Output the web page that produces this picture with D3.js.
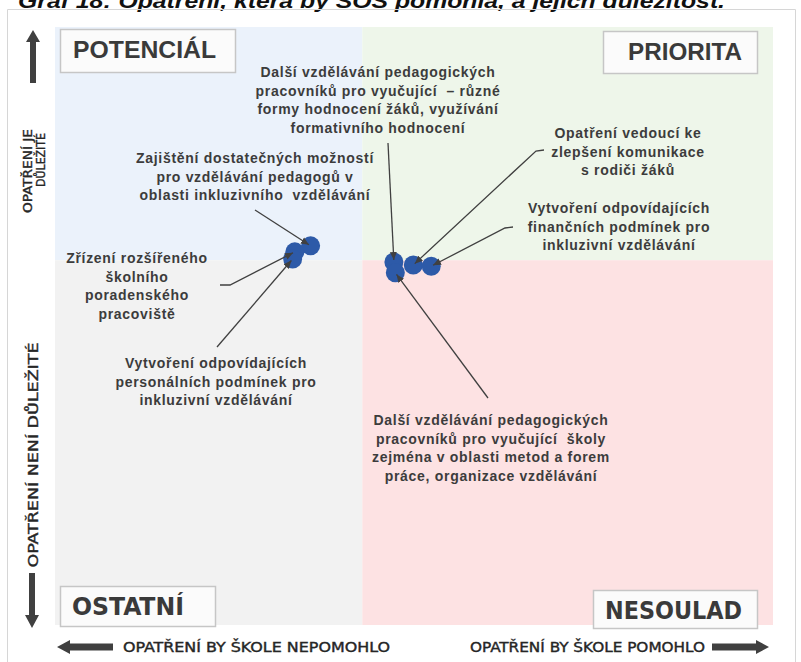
<!DOCTYPE html>
<html><head><meta charset="utf-8">
<script src="https://cdn.jsdelivr.net/npm/d3@7/dist/d3.min.js"></script>
<style>body{margin:0;background:#fff} svg{display:block}</style>
</head><body>
<svg id="c" width="801" height="662"></svg>
<script>
// ---------- DATA ----------
const measures = [
  "Zajištění dostatečných možností pro vzdělávání pedagogů v oblasti inkluzivního vzdělávání",
  "Zřízení rozšířeného školního poradenského pracoviště",
  "Vytvoření odpovídajících personálních podmínek pro inkluzivní vzdělávání",
  "Další vzdělávání pedagogických pracovníků pro vyučující – různé formy hodnocení žáků, využívání formativního hodnocení",
  "Další vzdělávání pedagogických pracovníků pro vyučující školy zejména v oblasti metod a forem práce, organizace vzdělávání",
  "Opatření vedoucí ke zlepšení komunikace s rodiči žáků",
  "Vytvoření odpovídajících finančních podmínek pro inkluzivní vzdělávání"
];
const measureLines = [
  ["Zajištění dostatečných možností","pro vzdělávání pedagogů v","oblasti inkluzivního\u00a0 vzdělávání"],
  ["Zřízení rozšířeného","školního","poradenského","pracoviště"],
  ["Vytvoření odpovídajících","personálních podmínek pro","inkluzivní vzdělávání"],
  ["Další vzdělávání pedagogických","pracovníků pro vyučující\u00a0 – různé","formy hodnocení žáků, využívání","formativního hodnocení"],
  ["Další vzdělávání pedagogických","pracovníků pro vyučující\u00a0 školy","zejména v oblasti metod a forem","práce, organizace vzdělávání"],
  ["Opatření vedoucí ke","zlepšení komunikace","s rodiči žáků"],
  ["Vytvoření odpovídajících","finančních podmínek pro","inkluzivní vzdělávání"]
];
const helpScore       = [35.6, 33.4, 33.1, 47.2, 47.4, 49.9, 52.4];
const importanceScore = [63.4, 62.4, 61.2, 60.7, 58.9, 60.2, 60.0];
const xSplit = 42.8, ySplit = 61.0;
const quadrantNames = ["POTENCIÁL","PRIORITA","OSTATNÍ","NESOULAD"];
const xAxisLabels = ["OPATŘENÍ BY ŠKOLE NEPOMOHLO","OPATŘENÍ BY ŠKOLE POMOHLO"];
const yAxisTopLines = ["OPATŘENÍ JE","DŮLEŽITÉ"];
const yAxisBottom = "OPATŘENÍ NENÍ DŮLEŽITÉ";
const titleText = "Graf 18: Opatření, která by SOŠ pomohla, a jejich důležitost.";

// ---------- LAYOUT ----------
const svg = d3.select("#c");
const x = d3.scaleLinear().domain([0,100]).range([55,773]);
const y = d3.scaleLinear().domain([0,100]).range([625,27]);
const dark = "#404040";
const sans = "Arial, 'Liberation Sans', sans-serif";
const narrow = "'Liberation Sans Narrow','Arial Narrow','DejaVu Sans Condensed',sans-serif";

// title (cut off at the top, as in the source)
svg.append("text").attr("x",18).attr("y",8)
  .attr("font-family",sans).attr("font-size",21).attr("font-style","italic").attr("font-weight","bold")
  .attr("fill","#111").attr("textLength",707).attr("lengthAdjust","spacingAndGlyphs").text(titleText);

// frame
svg.append("path").attr("d","M7.5,662V9.5H795.5V662").attr("fill","none").attr("stroke","#d6d6d6").attr("stroke-width",1);

// quadrants
const quads = [
  {x0:0,x1:xSplit,y0:ySplit,y1:100,c:"#ebf2fb"},
  {x0:xSplit,x1:100,y0:ySplit,y1:100,c:"#eef6ea"},
  {x0:0,x1:xSplit,y0:0,y1:ySplit,c:"#f2f2f2"},
  {x0:xSplit,x1:100,y0:0,y1:ySplit,c:"#fde2e3"}
];
svg.selectAll("rect.q").data(quads).join("rect").attr("class","q")
  .attr("x",d=>x(d.x0)).attr("width",d=>x(d.x1)-x(d.x0))
  .attr("y",d=>y(d.y1)).attr("height",d=>y(d.y0)-y(d.y1)).attr("fill",d=>d.c);

// quadrant label boxes
const qBoxes = [
  {bx:60,by:29,bw:175,bh:43,tx:73,ty:58,fs:24,font:sans,tl:143},
  {bx:603,by:31,bw:154,bh:42,tx:628,ty:60,fs:24,font:sans,tl:114},
  {bx:60,by:586,bw:155,bh:40,tx:72,ty:615,fs:25,font:narrow,tl:112},
  {bx:593,by:590,bw:164,bh:38,tx:605,ty:619,fs:25,font:narrow,tl:137}
];
qBoxes.forEach((b,i)=>{
  svg.append("rect").attr("x",b.bx+0.5).attr("y",b.by+0.5).attr("width",b.bw).attr("height",b.bh)
    .attr("fill","#fbfbfb").attr("stroke","#c6c6c6").attr("stroke-width",1.5);
  svg.append("text").attr("x",b.tx).attr("y",b.ty).attr("font-family",b.font).attr("font-weight","bold")
    .attr("font-size",b.fs).attr("fill","#3a3a3a").attr("textLength",b.tl).attr("lengthAdjust","spacingAndGlyphs")
    .text(quadrantNames[i]);
});

// axis arrows
const arrowFill = "#404040";
svg.append("path").attr("d","M33,30 L40,42 L36,42 L36,83 L30,83 L30,42 L26,42 Z").attr("fill",arrowFill);
svg.append("path").attr("d","M32,628 L39,615 L35,615 L35,573 L29,573 L29,615 L25,615 Z").attr("fill",arrowFill);
svg.append("path").attr("d","M57,647 L70,640 L70,643.5 L113,643.5 L113,650.5 L70,650.5 L70,654 Z").attr("fill",arrowFill);
svg.append("path").attr("d","M769,647 L756,640 L756,643.5 L712,643.5 L712,650.5 L756,650.5 L756,654 Z").attr("fill",arrowFill);

// x axis labels
const axStyle = s => s.attr("font-family",narrow).attr("font-size",13.5).attr("font-weight","normal")
  .attr("fill","#262626").attr("stroke","#262626").attr("stroke-width",0.35).attr("lengthAdjust","spacingAndGlyphs");
svg.append("text").attr("x",123).attr("y",652).call(axStyle).attr("textLength",267).text(xAxisLabels[0]);
svg.append("text").attr("x",470).attr("y",652).call(axStyle).attr("textLength",235).text(xAxisLabels[1]);

// y axis labels
const yl = svg.append("g").attr("text-anchor","middle");
yl.append("text").attr("transform","translate(32,171) rotate(-90)").call(axStyle).attr("font-size",12.5).attr("textLength",84).text(yAxisTopLines[0]);
yl.append("text").attr("transform","translate(45,160) rotate(-90)").call(axStyle).attr("font-size",12.5).attr("textLength",54).text(yAxisTopLines[1]);
yl.append("text").attr("transform","translate(38,455) rotate(-90)").call(axStyle).attr("textLength",225).text(yAxisBottom);

// annotation layout (label text position and leader start)
const annLayout = [
  {cx:255, y0:163, lead:[[255,210]]},
  {cx:137, y0:263, lead:[[220,285],[230,285]]},
  {cx:216, y0:368, lead:[[217,347]]},
  {cx:378, y0:77,  lead:[[388,143]]},
  {cx:491, y0:425, lead:[[488,398]]},
  {cx:628, y0:138, lead:[[544,150],[536,151]]},
  {cx:619, y0:213, lead:[[513,227],[505,228]]}
];
const lineGap = 18.7;

// points
const pts = measures.map((m,i)=>({name:m, hx:helpScore[i], iy:importanceScore[i], i}));
svg.append("g").selectAll("circle").data(pts).join("circle")
  .attr("cx",d=>x(d.hx)).attr("cy",d=>y(d.iy)).attr("r",9.5).attr("fill","#2d5aa8");

// arrow marker
svg.append("defs").append("marker").attr("id","ah").attr("markerUnits","userSpaceOnUse")
  .attr("markerWidth",9).attr("markerHeight",8).attr("refX",8).attr("refY",4).attr("orient","auto")
  .append("path").attr("d","M0,0.5 L8,4 L0,7.5 Z").attr("fill",dark);

// leaders
pts.forEach(d=>{
  const L = annLayout[d.i];
  const px = x(d.hx), py = y(d.iy);
  const last = L.lead[L.lead.length-1];
  const dx = px-last[0], dy = py-last[1], len = Math.hypot(dx,dy);
  const end = [px - dx/len*2, py - dy/len*2];
  svg.append("path").attr("d", d3.line()(L.lead.concat([end]))).attr("fill","none")
    .attr("stroke",dark).attr("stroke-width",1.3).attr("marker-end","url(#ah)");
});

// labels
const lab = svg.append("g").attr("font-family",sans).attr("font-weight","bold").attr("font-size",14)
  .attr("letter-spacing",0.7).attr("fill","#3c3c3c").attr("text-anchor","middle");
pts.forEach(d=>{
  const L = annLayout[d.i];
  measureLines[d.i].forEach((t,k)=>{
    lab.append("text").attr("x",L.cx).attr("y",L.y0+k*lineGap).text(t);
  });
});
</script>
</body></html>
